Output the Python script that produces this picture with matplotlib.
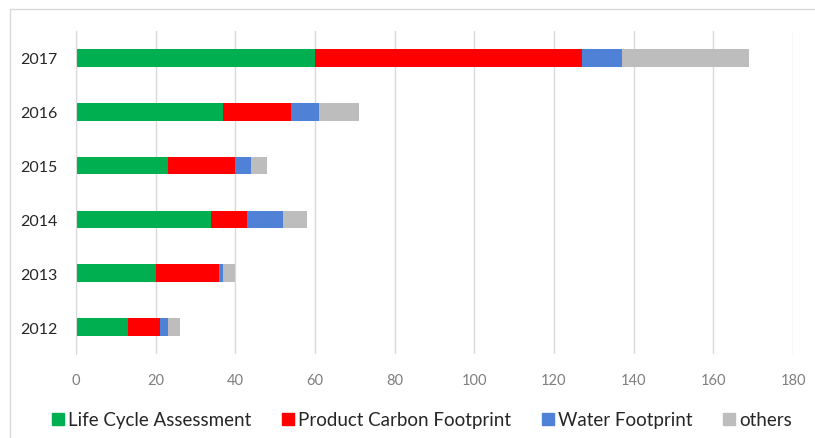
import matplotlib
matplotlib.use("Agg")
import matplotlib.pyplot as plt
from matplotlib.lines import Line2D
from matplotlib.patches import Rectangle
import numpy as np

plt.rcParams['font.family'] = ['Lato', 'DejaVu Sans']

years = ['2012', '2013', '2014', '2015', '2016', '2017']
lca = [13, 20, 34, 23, 37, 60]
pcf = [8, 16, 9, 17, 17, 67]
water = [2, 1, 9, 4, 7, 10]
others = [3, 3, 6, 4, 10, 32]

series_names = ['Life Cycle Assessment', 'Product Carbon Footprint',
                'Water Footprint', 'others']
series_values = [lca, pcf, water, others]
colors = ['#00B050', '#FF0000', '#4F82D6', '#BDBDBD']
x_ticks = [0, 20, 40, 60, 80, 100, 120, 140, 160, 180]

W, H = 815, 439
fig = plt.figure(figsize=(W / 100, H / 100), dpi=100)
ax = fig.add_axes([76 / W, 1 - 355 / H, (793 - 76) / W, (355 - 32) / H])

y = np.arange(len(years))
left = np.zeros(len(years))
for name, vals, c in zip(series_names, series_values, colors):
    ax.barh(y, vals, left=left, height=0.33, color=c, label=name, zorder=3)
    left += np.array(vals)

ax.set_xlim(0, 180)
ax.set_ylim(-0.5, len(years) - 0.5)
ax.set_xticks(x_ticks)
ax.set_xticklabels([str(t) for t in x_ticks], color='#7F7F7F', fontsize=10.5)
ax.set_yticks(y)
ax.set_yticklabels(years, color='#262626', fontsize=11.5)
ax.tick_params(axis='both', length=0)
ax.tick_params(axis='x', pad=14)
ax.tick_params(axis='y', pad=13)
ax.grid(axis='x', color='#D9D9D9', linewidth=1, zorder=0)
for s in ['top', 'right', 'bottom']:
    ax.spines[s].set_visible(False)
ax.spines['left'].set_color('#D9D9D9')
ax.spines['left'].set_zorder(4)

# chart-area frame
fig.patches.append(Rectangle((10 / W, -0.2), 2, 1.2 - 10 / H, transform=fig.transFigure,
                             fill=False, edgecolor='#D9D9D9', linewidth=1))

handles = [Line2D([], [], marker='s', linestyle='none', markersize=8,
                  markerfacecolor=c, markeredgecolor=c) for c in colors]
fig.legend(handles, series_names, loc='center', bbox_to_anchor=(422 / W, 1 - 421 / H),
           ncol=4, frameon=False, fontsize=13.5, handlelength=0.6, handletextpad=0.25,
           columnspacing=1.65, labelcolor='#262626')

fig.savefig('out.png', dpi=100)
